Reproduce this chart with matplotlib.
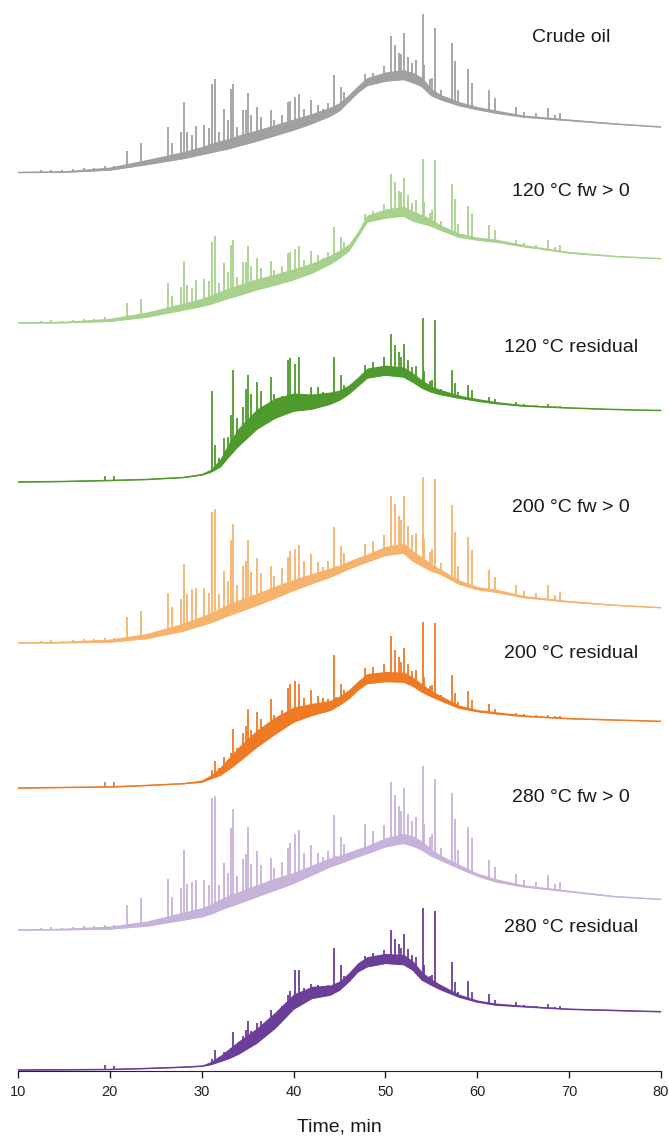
import numpy as np
import matplotlib.pyplot as plt

plt.rcParams['font.family'] = ['Liberation Sans', 'DejaVu Sans']

# time grid for the unresolved hump (min)
base_t = [10, 15, 20, 24, 28, 30, 31, 32, 33, 34, 36, 38, 40, 42, 44, 45, 46, 47,
          48, 50, 52, 53, 54, 55, 56, 58, 60, 62, 65, 70, 75, 80]

# hump level of each trace, above the start of that trace
crude_base = [0, 0.3, 2.5, 8, 14, 18, 20, 22, 24, 26.5, 31.5, 37, 42.5, 49, 56.5, 62, 71, 80,
              87, 91.5, 93, 90, 86, 77, 73, 67, 63, 59.5, 55.5, 52, 48.5, 45.5]
fw120_base = [0, 0.3, 1.7, 6, 13, 16.7, 19, 22, 25, 27.5, 33.3, 38, 43.3, 50, 59, 65, 72, 86,
              101, 105, 107, 102, 99.5, 97, 93, 86, 83, 81, 76.5, 70, 66.5, 64.3]
res120_base = [0, 0.5, 1.5, 2.5, 4.5, 7, 10, 15, 26, 36, 53, 64, 71, 73, 78, 82, 88, 96,
               104, 107, 105, 100, 94, 90, 87.5, 84, 81, 78.5, 76, 74, 72.5, 71.5]
fw200_base = [0, 0.3, 1, 4.5, 12, 17.7, 20.5, 24, 27.7, 31, 37.7, 45, 52.7, 59.5, 66, 70, 74, 77.7,
              81, 87.7, 90, 82, 77, 72, 69, 59, 53.5, 51, 45.5, 41, 37.7, 35.3]
res200_base = [0, 0.5, 1, 2.5, 4.3, 6, 9.3, 12.7, 19, 26, 41, 54, 66, 72.7, 77.7, 83, 89.3, 98,
               104.5, 106.5, 106, 102, 96, 91.5, 87.5, 80, 76.5, 74.3, 71.7, 69.3, 68, 66.7]
fw280_base = [0, 0.3, 1, 4, 10, 13.3, 16, 20, 23.3, 26.5, 33.3, 40, 46.7, 55, 63.3, 66.5, 70, 73.3,
              76.5, 83.3, 86.7, 84, 80, 74, 70, 61.7, 54, 48.3, 43.3, 38.3, 33.3, 30.7]
res280_base = [0, 0.2, 0.5, 1.5, 2.8, 3.8, 5.5, 8.5, 11.7, 16, 27, 42, 61, 71.7, 75, 80, 88.3, 98.3,
               103.3, 106.7, 105.5, 100, 90, 85, 80.5, 73, 68, 65, 63.3, 60.7, 59.5, 58.3]

# thickness of the dense band of small peaks riding on the hump
crude_band = [1, 1.5, 3, 5, 7, 8, 9, 10, 10, 11, 11, 11, 11, 10, 9, 8, 7, 7,
              8, 9, 10, 10, 9, 7, 5, 4, 3, 3, 2, 1.5, 1, 0.5]
fw120_band = [1, 1.5, 3, 5, 7, 8, 9, 10, 10, 11, 11, 11, 11, 10, 9, 8, 7, 6,
              7, 9, 10, 10, 9, 7, 5, 4, 3, 3, 2, 1.5, 1, 0.5]
res120_band = [1, 1, 1, 1, 1, 1.5, 3, 8, 14, 18, 20, 20, 18, 15, 12, 10, 9, 9,
               10, 10, 10, 9, 8, 6, 5, 3, 2.5, 2, 1.5, 1, 0.5, 0.5]
fw200_band = [1, 1.5, 3, 5, 8, 9, 10, 11, 12, 12, 12, 12, 11, 10, 9, 8, 8, 8,
              8, 9, 10, 10, 9, 7, 5, 4, 3, 3, 2, 1.5, 1, 0.5]
res200_band = [1, 1, 1, 1, 1, 2, 4, 8, 12, 15, 17, 17, 15, 12, 10, 9, 9, 9,
               10, 10, 10, 9, 8, 6, 5, 3, 2, 2, 1.5, 1, 0.5, 0.5]
fw280_band = [1, 1.5, 3, 5, 8, 9, 10, 11, 12, 12, 12, 12, 11, 10, 9, 8, 8, 8,
              8, 9, 10, 10, 9, 7, 5, 4, 3, 3, 2, 1.5, 1, 0.5]
res280_band = [1, 1, 1, 1, 1, 1, 3, 6, 10, 13, 15, 16, 15, 12, 10, 9, 9, 9,
               10, 10, 10, 9, 8, 6, 5, 3, 2, 2, 1.5, 1, 1, 0.5]

# retention times of the resolved peaks (min)
peak_t = [12.5, 13.6, 14.8, 16.0, 17.2, 18.3, 19.45, 20.5, 21.9, 23.4,
          26.3, 26.8, 27.7, 28.07, 28.4, 28.9, 29.4, 30.2, 30.8, 31.15,
          31.5, 31.9, 32.4, 32.9, 33.15, 33.45, 33.8, 34.5, 34.8, 35.05,
          35.4, 36.0, 36.5, 37.5, 37.9, 38.7, 39.4, 39.6, 40.2, 40.6,
          41.1, 41.9, 42.7, 43.2, 43.8, 44.35, 44.6, 45.2, 45.5, 47.8,
          48.7, 49.8, 50.6, 51.0, 51.5, 51.7, 52.0, 52.5, 52.9, 53.3,
          54.05, 54.25, 54.8, 55.1, 55.45, 56.1, 57.3, 57.6, 57.9, 59.0,
          59.4, 61.3, 61.9, 64.2, 65.1, 66.4, 67.7, 68.5, 69.0]

# peak heights above the hump
crude_h = [2, 2.5, 2, 2.5, 3, 3, 4, 3, 16.6, 22,
           34, 17, 26.5, 56, 26, 22, 30, 29, 25, 68,
           73, 19, 40.5, 28.7, 59, 63.4, 20, 35, 34, 50,
           27.7, 34.5, 23, 27, 16, 18.7, 30, 30.6, 32.4, 34,
           17.8, 24, 16, 10, 14, 38.7, 7, 22, 14.5, 12.7,
           11.3, 15, 44.5, 35, 27, 26, 47, 24, 19.6, 24,
           73, 23.7, 14.4, 18, 69, 10, 60.5, 43.4, 15.5, 38.4,
           25.8, 21.5, 14.7, 8.7, 5, 4.8, 11.3, 4.7, 7.3]
fw120_h = [2, 2.5, 2, 2.5, 3, 3, 4, 3, 16.7, 19,
           30, 16, 24, 49, 24, 20, 27, 27, 23, 62,
           67, 18, 37, 26, 53, 57, 19, 32, 31, 46,
           25, 32, 21, 25, 15, 17, 28, 29, 30, 32,
           16, 22, 15, 10, 13, 35, 7, 20, 13, 11,
           10, 14, 43.5, 35, 26, 24, 38, 24, 18, 22,
           64.5, 22, 13, 16, 68, 9, 51, 37, 13, 33,
           26, 16, 12, 5, 4, 3.5, 10, 4, 6.5]
res120_h = [0, 0, 0, 0, 0, 0, 5, 4, 0, 0,
            0, 0, 0, 0, 0, 0, 0, 0, 0, 80,
            25, 10, 25, 20, 40, 82, 30, 35, 50, 62,
            40, 47, 35, 44, 25, 20, 53, 54, 47, 53.5,
            15, 22, 20, 14, 12, 46, 10, 23.5, 12, 15,
            15, 18, 42, 31, 25, 20, 33, 20, 15, 18,
            70, 18, 10, 12, 73, 6, 27, 14, 6, 15,
            10, 6, 4, 3, 2, 1.5, 3, 1.5, 2]
fw200_h = [2, 2.5, 2, 2.5, 3, 3.5, 4.5, 3.5, 23.5, 28,
           41, 26, 33, 66.7, 36, 39, 39, 37, 30, 110,
           112, 25, 47, 35, 75, 90, 28, 44, 48, 68,
           35, 47.6, 30, 34, 22, 27, 36, 41, 41, 43,
           26, 30, 19, 13, 17, 48.5, 9, 26, 18, 19,
           19, 21, 58.7, 50, 38, 33, 56.7, 31, 25, 30,
           89, 28, 18, 22, 93, 12, 75.7, 50, 18, 50,
           38, 21, 15, 10.7, 7, 6, 14.7, 6, 9.5]
res200_h = [0, 0, 0, 0, 0, 0, 5.5, 4.5, 0, 0,
            0, 0, 0, 0, 0, 0, 0, 0, 0, 8,
            16, 8, 16, 10, 15, 37, 15, 25, 30, 45,
            22, 35, 25, 38, 20, 20, 38, 40, 40, 36,
            20, 26, 18, 14, 12, 53, 10, 20, 12, 17,
            16, 18, 46, 32, 25, 20, 34, 20, 15, 18,
            70, 16, 10, 12, 75, 6, 30, 14, 6, 19,
            10, 8.5, 5, 3, 2, 1.5, 3, 1.5, 2]
fw280_h = [2, 2.5, 2, 2.5, 3, 3.5, 4.5, 3.5, 22.5, 28,
           44, 25, 32, 70, 35, 37, 38, 36, 30, 115,
           116, 25, 46, 34, 78, 96, 28, 43, 47, 73,
           35, 46, 30, 34, 22, 26, 37, 42, 48, 51,
           26, 30, 19, 13, 17, 51, 9, 26, 18, 30,
           20, 22, 64, 50, 38, 33, 55, 31, 25, 30,
           84, 28, 18, 22, 79, 12, 72, 48, 18, 45,
           36, 20, 14, 11, 7, 6, 14, 6, 9]
res280_h = [0, 0, 0, 0, 0, 0, 5, 3.5, 0, 0,
            0, 0, 0, 0, 0, 0, 0, 0, 0, 5,
            13, 5, 8, 6, 10, 24, 10, 15, 20, 27,
            15, 20, 18, 22, 14, 15, 20, 22, 38, 36,
            15, 15, 12, 10, 10, 45, 8, 23, 10, 12,
            13, 14, 34, 25, 20, 16, 31, 18, 14, 16,
            72, 16, 8, 10, 76, 5, 32, 14, 5, 19,
            9, 10, 5, 4, 2, 1.5, 4, 1.5, 2.5]

labels = ['Crude oil', '120 °C fw > 0', '120 °C residual', '200 °C fw > 0',
          '200 °C residual', '280 °C fw > 0', '280 °C residual']
colors = ['#a0a0a0', '#a9d18e', '#4e9a2c', '#f6b36d', '#ee7a24', '#c7b2da', '#6b3f99']
offsets = [898.5, 748, 589, 428, 283, 141, 1]
label_y = [1033, 880, 724, 563, 418, 274, 144]

bases = [crude_base, fw120_base, res120_base, fw200_base, res200_base, fw280_base, res280_base]
bands = [crude_band, fw120_band, res120_band, fw200_band, res200_band, fw280_band, res280_band]
heights = [crude_h, fw120_h, res120_h, fw200_h, res200_h, fw280_h, res280_h]

fig = plt.figure(figsize=(6.69, 11.40), dpi=100)
ax = fig.add_axes([18 / 669, 69 / 1140, 643 / 669, 1071 / 1140])

bt = np.array(base_t, dtype=float)
pt = np.array(peak_t, dtype=float)
for base, band, h, c, off, lab, ly in zip(bases, bands, heights, colors, offsets, labels, label_y):
    b = np.array(base, dtype=float) + off
    # dense unresolved peaks drawn as a band over the hump
    ax.fill_between(bt, b, b + np.array(band), color=c, lw=0)
    ax.plot(bt, b, color=c, lw=1.1)
    h = np.array(h, dtype=float)
    keep = h > 0
    foot = np.interp(pt[keep], bt, b)
    ax.vlines(pt[keep], foot, foot + h[keep], color=c, lw=1.3)
    ax.text(70.2, ly, lab, ha='center', va='center', fontsize=14, color='#1a1a1a')

ax.set_xlim(10, 80)
ax.set_ylim(0, 1071)
ax.set_xticks(range(10, 81, 10))
ax.set_yticks([])
for s in ['left', 'right', 'top']:
    ax.spines[s].set_visible(False)
ax.spines['bottom'].set_color('#222222')
ax.tick_params(axis='x', direction='out', length=5, width=1, pad=5,
               labelsize=10.5, colors='#222222')
ax.set_xlabel('Time, min', fontsize=14, labelpad=14, color='#1a1a1a')

fig.savefig('out.png', dpi=100)
